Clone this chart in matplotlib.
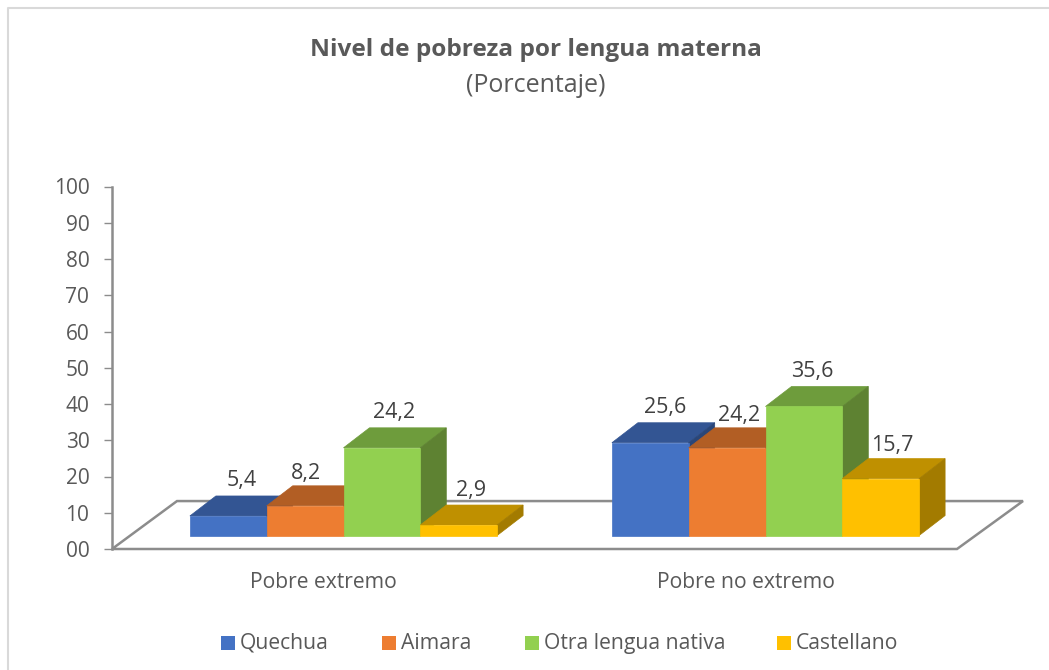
import numpy as np
import matplotlib
matplotlib.use('Agg')
import matplotlib.pyplot as plt
from matplotlib.patches import Polygon, Rectangle
from matplotlib.lines import Line2D

plt.rcParams['font.family'] = ['Open Sans', 'DejaVu Sans']

#data
categories = ['Pobre extremo', 'Pobre no extremo']
series = ['Quechua', 'Aimara', 'Otra lengua nativa', 'Castellano']
quechua = [5.4, 25.6]
aimara = [8.2, 24.2]
otra = [24.2, 35.6]
castellano = [2.9, 15.7]
values = [quechua, aimara, otra, castellano]
labels = [['5,4', '25,6'], ['8,2', '24,2'], ['24,2', '35,6'], ['2,9', '15,7']]
yticks = list(range(0, 101, 10))
yticklabels = ['00'] + [str(v) for v in yticks[1:]]

#colours: front, top, side
front = ['#4472C4', '#ED7D31', '#92D050', '#FFC000']
top = ['#335593', '#B25E24', '#6E9C3C', '#BF9000']
side = ['#2A4678', '#B25E24', '#5E8232', '#A37B00']
grey = '#8C8C8C'
text_col = '#404040'
label_col = '#595959'

W, H = 1049, 670
fig = plt.figure(figsize=(W/100, H/100), dpi=100)

#outer chart frame, only top and left show in the picture
fig.add_artist(Line2D([8/W, 8/W, 1], [0, 1-8.3/H, 1-8.3/H], transform=fig.transFigure,
                      color='#D9D9D9', lw=1.5, zorder=-1))

#axes go from the y axis to the right end of the floor
ax = fig.add_axes([112/W, 1-549/H, (1023-112)/W, (549-186.5)/H])
ax.set_xlim((112-343.5)/422, (1023-343.5)/422)
ax.set_ylim(0, 100)
ax.patch.set_alpha(0)
for s in ['top', 'right', 'bottom']:
    ax.spines[s].set_visible(False)
ax.spines['left'].set_color(grey)
ax.spines['left'].set_linewidth(1.8)

bar_w = 76.8/422
dx = 26/422
dy = 20/3.63
base = 13.5/3.63
floor_dx_l = 65/422
floor_dx_r = 66/422
floor_dy = 48/3.63
x0, x1 = ax.get_xlim()

#floor
floor = Polygon([(x0, 0), (x1-floor_dx_r, 0), (x1, floor_dy), (x0+floor_dx_l, floor_dy)],
                closed=True, fc='white', ec=grey, lw=1.8, clip_on=False, zorder=1)
ax.add_patch(floor)

#label offsets from the middle of the bar front, in pixels
off_x = [[13, 15], [1, 12], [12, 8], [12, 12]]
off_y = [[35, 35], [32, 32], [35, 35], [35, 33]]

z = 2
for c in range(len(categories)):
    for i in range(len(series)):
        v = values[i][c]
        l = c - 2*bar_w + i*bar_w
        r = l + bar_w
        b = base
        t = base + v
        #same colour edge so no seam shows between the faces
        ax.add_patch(Polygon([(l, t), (r, t), (r+dx, t+dy), (l+dx, t+dy)], fc=top[i], ec=top[i], lw=0.5, zorder=z))
        ax.add_patch(Polygon([(r, b), (r+dx, b+dy), (r+dx, t+dy), (r, t)], fc=side[i], ec=side[i], lw=0.5, zorder=z))
        ax.add_patch(Polygon([(l, b), (r, b), (r, t), (l, t)], fc=front[i], ec=front[i], lw=0.5, zorder=z))
        z += 1

for c in range(len(categories)):
    for i in range(len(series)):
        xc = c - 2*bar_w + (i+0.5)*bar_w
        ax.annotate(labels[i][c], (xc, base+values[i][c]),
                    xytext=(off_x[i][c]*0.72, off_y[i][c]*0.72), textcoords='offset points',
                    ha='center', va='center', fontsize=15.5, color=text_col, zorder=50)

ax.set_yticks(yticks)
ax.set_yticklabels(yticklabels, fontsize=15, color=label_col)
ax.tick_params(axis='y', length=5.8, width=1, color=grey, pad=10.5)
#category names sit a bit left of the bars in the 3d view
ax.set_xticks([c - 20/422 for c in range(len(categories))])
ax.set_xticklabels(categories, fontsize=15.2, color=label_col)
ax.tick_params(axis='x', length=0, pad=16.7)

#title
fig.text(535.5/W, 1-50/H, 'Nivel de pobreza por lengua materna', ha='center', va='center',
         fontsize=17.6, fontweight='bold', color=label_col)
fig.text(535.5/W, 1-85/H, '(Porcentaje)', ha='center', va='center', fontsize=18, color=label_col)

#legend, placed by hand so all names share one baseline
legend_x = [221, 382, 525, 777]
for i in range(len(series)):
    fig.add_artist(Rectangle((legend_x[i]/W, 1-650/H), 14/W, 14/H, transform=fig.transFigure,
                             fc=front[i], ec='none'))
    fig.text((legend_x[i]+19)/W, 1-649/H, series[i], ha='left', va='baseline',
             fontsize=15.2, color=label_col)

plt.savefig('out.png', dpi=100)
